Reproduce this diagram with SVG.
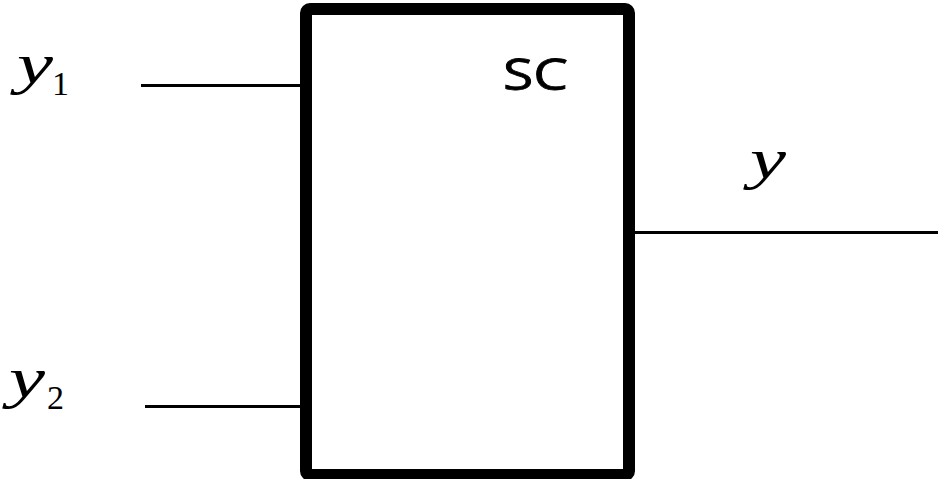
<svg xmlns="http://www.w3.org/2000/svg" width="938" height="479" viewBox="0 0 938 479">
<style>
.var{font-family:"Liberation Serif","DejaVu Serif",serif;font-style:italic;font-size:57px;fill:#000}
.sub{font-family:"Liberation Serif","DejaVu Serif",serif;font-size:34px;fill:#000}
.lbl{font-family:"Open Sans","Liberation Sans",sans-serif;font-size:44px;fill:#000}
.wire{stroke:#000;stroke-width:3;fill:none}
</style>
<g id="connectors">
<line class="wire" x1="141" y1="85.5" x2="302" y2="85.5"/>
<line class="wire" x1="145" y1="406.5" x2="302" y2="406.5"/>
<line class="wire" x1="633" y1="232.5" x2="938" y2="232.5"/>
</g>
<g id="sc">
<rect x="306" y="9" width="323" height="466" rx="4" fill="#fff" stroke="#000" stroke-width="12"/>
<text class="lbl" x="503" y="90" textLength="65" lengthAdjust="spacingAndGlyphs" stroke="#000" stroke-width="0.8">SC</text>
</g>
<g id="y1">
<text class="var" x="17" y="83" textLength="36" lengthAdjust="spacingAndGlyphs">y</text>
<text class="sub" x="52" y="95">1</text>
</g>
<g id="y2">
<text class="var" x="9" y="397" textLength="36" lengthAdjust="spacingAndGlyphs">y</text>
<text class="sub" x="47" y="409">2</text>
</g>
<g id="y">
<text class="var" x="750" y="178" textLength="36" lengthAdjust="spacingAndGlyphs">y</text>
</g>
</svg>
